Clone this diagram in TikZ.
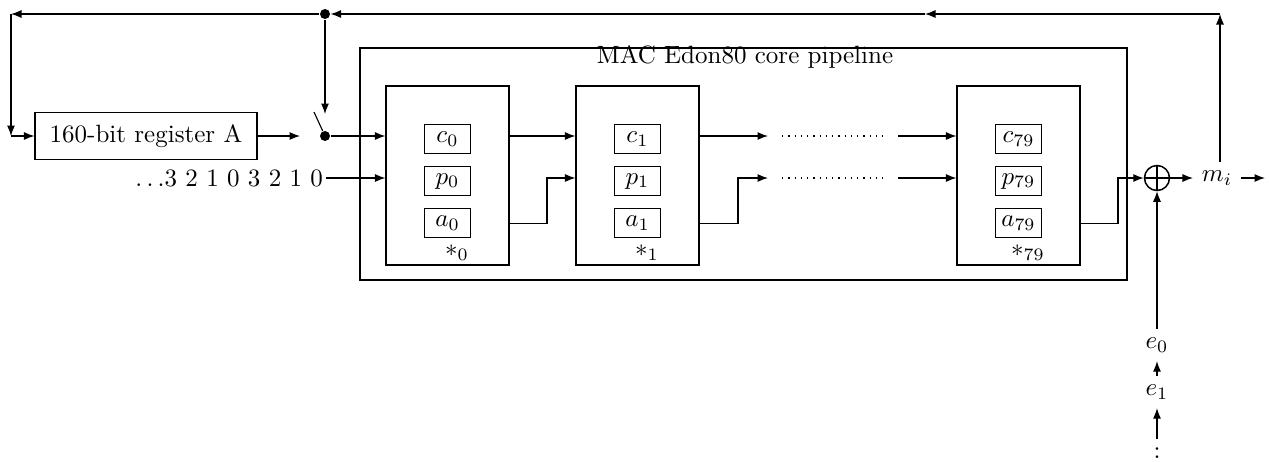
\documentclass[tikz,border=0pt]{standalone}
\usepackage{tikz}
\usetikzlibrary{arrows.meta,positioning,calc}
\tikzset{
  regbox/.style={draw, minimum width=88.8pt, minimum height=18.8pt, inner sep=2pt},
  pipebox/.style={draw, minimum width=306.8pt, minimum height=92.8pt},
  stagebox/.style={draw, minimum width=49.2pt, minimum height=71.6pt},
  cellbox/.style={draw, minimum width=18.6pt, minimum height=11.6pt, inner sep=1pt},
  junction/.style={circle, fill, inner sep=0pt, minimum size=4pt},
  xorop/.style={circle, draw, line width=0.6pt, minimum size=10pt, inner sep=0pt,
    path picture={\draw[line width=0.6pt] (path picture bounding box.north) -- (path picture bounding box.south)
      (path picture bounding box.west) -- (path picture bounding box.east);}},
  arrow/.style={-{Latex[length=4.2pt, width=3.2pt]}},
  gap/.style={dotted, line width=0.5pt}
}
\begin{document}
\begin{tikzpicture}[x=0.4pt, y=-0.4pt, node distance=4.8pt, line width=0.45pt]
  \useasboundingbox (0,0) rectangle (1269,462);
  % register, switch and input sequence
  \node[regbox] (reg) at (146,136) {160-bit register A};
  \node[junction] (split) at (325,14) {};
  \node[junction] (sw) at (325,136) {};
  \coordinate (swin) at (300,136);
  \coordinate (swtop) at (325,114);
  \coordinate (lever) at (314,112);
  \node[anchor=east, inner sep=1pt] (seq) at (326,178) {$\ldots$3 2 1 0 3 2 1 0};

  % pipeline with three stages shown
  \node[pipebox] (pipe) at (743.5,164) {};
  \node (title) at (745,57) {MAC Edon80 core pipeline};

  \node[stagebox] (s0) at (447.5,175.5) {};
  \node[cellbox] (c0) at (447.5,139) {$c_0$};
  \node[cellbox, below=of c0] (p0) {$p_0$};
  \node[cellbox, below=of p0] (a0) {$a_0$};
  \node (st0) at (457,253) {$*_0$};

  \node[stagebox] (s1) at (637.5,175.5) {};
  \node[cellbox] (c1) at (637.5,139) {$c_1$};
  \node[cellbox, below=of c1] (p1) {$p_1$};
  \node[cellbox, below=of p1] (a1) {$a_1$};
  \node (st1) at (647,253) {$*_1$};

  \node[stagebox] (s79) at (1018.5,175.5) {};
  \node[cellbox] (c79) at (1018.5,139) {$c_{79}$};
  \node[cellbox, below=of c79] (p79) {$p_{79}$};
  \node[cellbox, below=of p79] (a79) {$a_{79}$};
  \node (st79) at (1028,253) {$*_{79}$};

  \coordinate (j0) at (547,178);
  \coordinate (j1) at (738,178);
  \coordinate (j79) at (1118,178);
  \coordinate (gc1) at (768,136);
  \coordinate (gc2) at (782,136);
  \coordinate (gc3) at (886,136);
  \coordinate (gc4) at (898,136);
  \coordinate (gp1) at (768,178);
  \coordinate (gp2) at (782,178);
  \coordinate (gp3) at (886,178);
  \coordinate (gp4) at (898,178);

  % output side
  \node[xorop] (xor) at (1157,178) {};
  \node (mi) at (1217,178) {$m_i$};
  \coordinate (out) at (1265,178);
  \node (e0) at (1157,345) {$e_0$};
  \node (e1) at (1157,392) {$e_1$};
  \node (ed) at (1157,453) {:};

  % feedback loop
  \coordinate (fbtr) at (1220,14);
  \coordinate (fbmid) at (925,14);
  \coordinate (fbtl) at (11,14);
  \coordinate (fbbl) at (11,136);

  \draw[arrow] (mi.north -| fbtr) -- (fbtr);
  \draw[arrow] (fbtr) -- (fbmid);
  \draw[arrow] (fbmid) -- (split);
  \draw[arrow] (split) -- (fbtl);
  \draw[arrow] (fbtl) -- (fbbl);
  \draw[arrow] (fbbl) -- (reg);
  \draw[arrow] (reg) -- (swin);
  \draw[arrow] (split) -- (swtop);
  \draw (sw) -- (lever);

  \draw[arrow] (sw) -- (s0.west |- sw);
  \draw[arrow] (seq) -- (s0.west |- seq);
  \draw[arrow] (s0.east |- sw) -- (s1.west |- sw);
  \draw[arrow] (s0.east |- a0) -| (j0) |- (s1.west |- seq);
  \draw[arrow] (s1.east |- sw) -- (gc1);
  \draw[arrow] (s1.east |- a1) -| (j1) |- (gp1);
  \draw[gap] (gc2) -- (gc3);
  \draw[gap] (gp2) -- (gp3);
  \draw[arrow] (gc4) -- (s79.west |- sw);
  \draw[arrow] (gp4) -- (s79.west |- seq);
  \draw[arrow] (s79.east |- a79) -| (j79) |- (xor);

  \draw[arrow] (xor) -- (mi);
  \draw[arrow] (mi) -- (out);
  \draw[arrow] (e0) -- (xor);
  \draw[arrow] (e1) -- (e0);
  \draw[arrow] (ed) -- (e1);
\end{tikzpicture}
\end{document}
